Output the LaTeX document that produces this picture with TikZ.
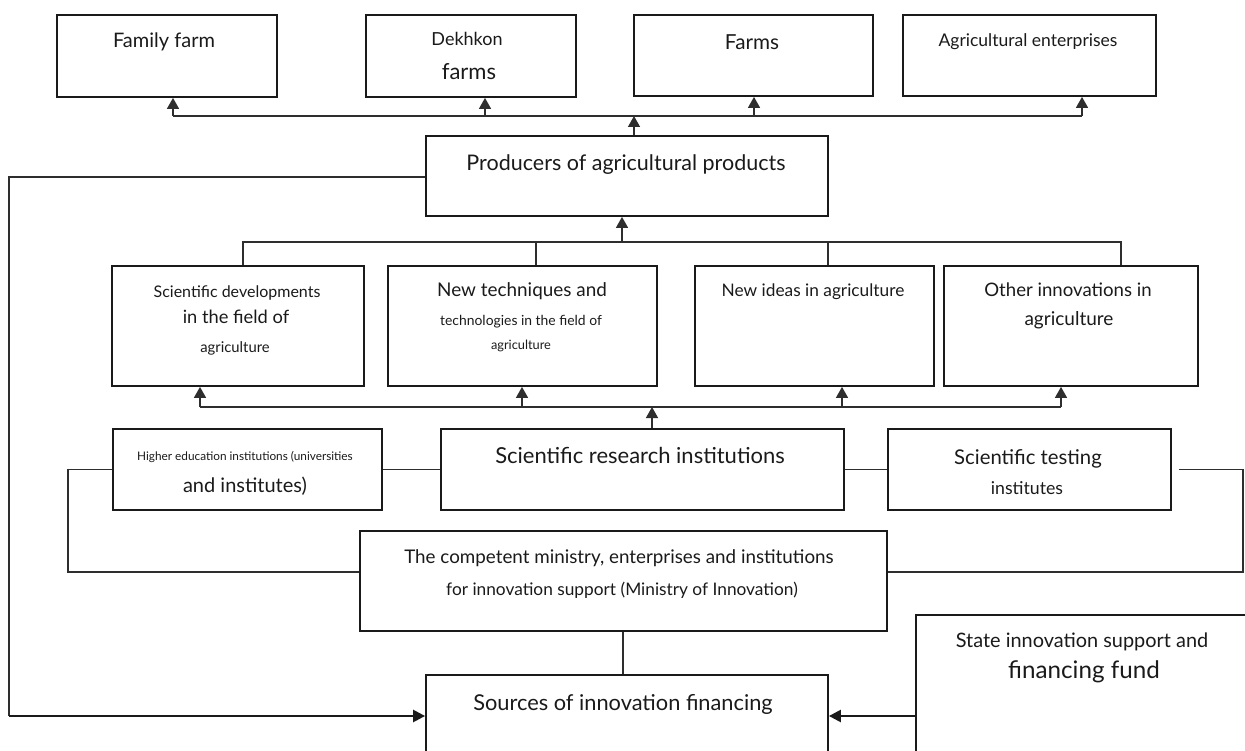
\documentclass[tikz,border=0pt]{standalone}
\usepackage{fontspec}
\setmainfont{Lato}
\usetikzlibrary{arrows.meta}
\newcommand{\myfs}[1]{\fontsize{#1}{#1}\selectfont}
\definecolor{ink}{HTML}{1A1A1A}
\definecolor{wire}{HTML}{2E2E2E}
\begin{document}
\begin{tikzpicture}[x=1pt,y=-1pt,
  box/.style={draw=ink,line width=1.8pt,inner sep=0pt,fill=none},
  txt/.style={inner sep=0pt,anchor=mid,text=ink},
  conn/.style={draw=wire,line width=1.4pt},
  arr/.style={draw=wire,line width=1.4pt,-{Triangle[width=12pt,length=11pt]}},
  thickarr/.style={draw=ink,line width=2.4pt,-{Triangle[width=12pt,length=12pt]}}
]
\useasboundingbox (0,0) rectangle (1245,751);
\clip (0,0) rectangle (1245,751);

% ---------- top row ----------
\node[box,minimum width=220pt,minimum height=82pt] (ff) at (167,56) {};
\node[box,minimum width=210pt,minimum height=82pt] (dk) at (471,56) {};
\node[box,minimum width=239pt,minimum height=81pt] (fm) at (753.5,55.5) {};
\node[box,minimum width=253pt,minimum height=81pt] (ae) at (1029.5,55.5) {};
\node[txt,font=\myfs{20}] (ff-t) at (164,45.4) {Family farm};
\node[txt,font=\myfs{18}] (dk-t1) at (467,42.9) {Dekhkon};
\node[txt,font=\myfs{22}] (dk-t2) at (469,76.9) {farms};
\node[txt,font=\myfs{20.7}] (fm-t) at (752,46.6) {Farms};
\node[txt,font=\myfs{17.5}] (ae-t) at (1028,43.7) {Agricultural enterprises};

% ---------- producers ----------
\node[box,minimum width=402pt,minimum height=80pt] (pr) at (627,176) {};
\node[txt,font=\myfs{21.5}] (pr-t) at (626,167.8) {Producers of agricultural products};

% ---------- innovations row ----------
\node[box,minimum width=252pt,minimum height=120pt] (sd) at (238,326) {};
\node[box,minimum width=269pt,minimum height=120pt] (nt) at (522.5,326) {};
\node[box,minimum width=239pt,minimum height=120pt] (ni) at (814.5,326) {};
\node[box,minimum width=254pt,minimum height=120pt] (oi) at (1071,326) {};
\node[txt,font=\myfs{16}] (sd-t1) at (237,295.3) {Scientific developments};
\node[txt,font=\myfs{18.3}] (sd-t2) at (236,320.9) {in the field of};
\node[txt,font=\myfs{14.8}] (sd-t3) at (235,350) {agriculture};
\node[txt,font=\myfs{18.9}] (nt-t1) at (522,294.1) {New techniques and};
\node[txt,font=\myfs{13.9}] (nt-t2) at (521,322.8) {technologies in the field of};
\node[txt,font=\myfs{12.8}] (nt-t3) at (521,346.5) {agriculture};
\node[txt,font=\myfs{17.3}] (ni-t) at (813,293.7) {New ideas in agriculture};
\node[txt,font=\myfs{18.6}] (oi-t1) at (1068,294) {Other innovations in};
\node[txt,font=\myfs{19}] (oi-t2) at (1069,323.1) {agriculture};

% ---------- institutions row ----------
\node[box,minimum width=269pt,minimum height=81pt] (he) at (247.5,469.5) {};
\node[box,minimum width=403pt,minimum height=81pt] (sr) at (642.5,469.5) {};
\node[box,minimum width=283pt,minimum height=81pt] (st) at (1029.5,469.5) {};
\node[txt,font=\myfs{11.8}] (he-t1) at (245,458.2) {Higher education institutions (universities};
\node[txt,font=\myfs{20}] (he-t2) at (245,490.4) {and institutes)};
\node[txt,font=\myfs{22}] (sr-t) at (640,460.9) {Scientific research institutions};
\node[txt,font=\myfs{20.3}] (st-t1) at (1028,461.5) {Scientific testing};
\node[txt,font=\myfs{17.7}] (st-t2) at (1027,491.8) {institutes};

% ---------- ministry ----------
\node[box,minimum width=527pt,minimum height=100pt] (mi) at (623.5,581) {};
\node[txt,font=\myfs{18.8}] (mi-t1) at (619,561.1) {The competent ministry, enterprises and institutions};
\node[txt,font=\myfs{17.3}] (mi-t2) at (622,592.7) {for innovation support (Ministry of Innovation)};

% ---------- sources and fund ----------
\node[box,minimum width=402pt,minimum height=125pt] (so) at (627,737.5) {};
\node[txt,font=\myfs{21.8}] (so-t) at (623,707.9) {Sources of innovation financing};
\node[box,minimum width=384pt,minimum height=185pt] (sf) at (1108,707.5) {};
\node[txt,font=\myfs{19.9}] (sf-t1) at (1082,645.4) {State innovation support and};
\node[txt,font=\myfs{24.2}] (sf-t2) at (1084,675.5) {financing fund};

% ---------- bus 1 (producers -> farm types) ----------
\coordinate (b1a) at (173,116);
\coordinate (b1b) at (485,116);
\coordinate (b1p) at (634,116);
\coordinate (b1c) at (754,116);
\coordinate (b1d) at (1082,116);
\draw[conn] (b1a) -- (b1d);
\draw[arr] (b1a) -- (b1a |- ff.south);
\draw[arr] (b1b) -- (b1b |- dk.south);
\draw[arr] (b1c) -- (b1c |- fm.south);
\draw[arr] (b1d) -- (b1d |- ae.south);
\draw[arr] (b1p |- pr.north) -- (b1p);

% ---------- bus 2 (innovations -> producers) ----------
\coordinate (b2a) at (243,242);
\coordinate (b2b) at (536,242);
\coordinate (b2p) at (622,242);
\coordinate (b2c) at (828,242);
\coordinate (b2d) at (1121,242);
\draw[conn] (b2a |- sd.north) -- (b2a) -- (b2d) -- (b2d |- oi.north);
\draw[conn] (b2b) -- (b2b |- nt.north);
\draw[conn] (b2c) -- (b2c |- ni.north);
\draw[arr] (b2p) -- (b2p |- pr.south);

% ---------- bus 3 (research -> innovations) ----------
\coordinate (b3a) at (200,407);
\coordinate (b3b) at (522,407);
\coordinate (b3p) at (652,407);
\coordinate (b3c) at (842,407);
\coordinate (b3d) at (1061,407);
\draw[conn] (b3a) -- (b3d);
\draw[arr] (b3a) -- (b3a |- sd.south);
\draw[arr] (b3b) -- (b3b |- nt.south);
\draw[arr] (b3c) -- (b3c |- ni.south);
\draw[arr] (b3d) -- (b3d |- oi.south);
\draw[arr] (b3p |- sr.north) -- (b3p);

% ---------- institution links ----------
\draw[conn] (he.east) -- (sr.west);
\draw[conn] (sr.east) -- (st.west);
\coordinate (lh) at (68,572);
\draw[conn] (he.west) -| (lh) -- (mi.west |- lh);
\coordinate (rh) at (1243,572);
\draw[conn] ([xshift=7pt]st.east) -| (rh) -- (mi.east |- rh);
\draw[conn] (mi.south -| 623,0) -- (so.north -| 623,0);

% ---------- financing links ----------
\coordinate (lo) at (9,716);
\draw[conn] (pr.west |- 0,177) -| (lo);
\draw[thickarr] (lo) -- (so.west |- lo);
\draw[thickarr] (sf.west |- lo) -- (so.east |- lo);
\end{tikzpicture}
\end{document}
